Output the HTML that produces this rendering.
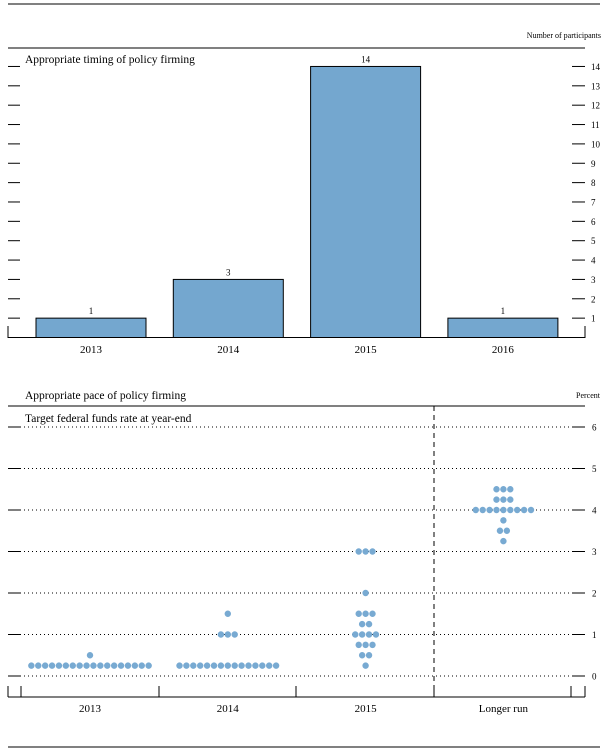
<!DOCTYPE html>
<html><head><meta charset="utf-8"><style>
body{margin:0;background:#fff;}
svg{display:block;font-family:"Liberation Serif",serif;}
</style></head><body>
<svg id="c" width="608" height="750" xmlns="http://www.w3.org/2000/svg">
<line x1="8" y1="4" x2="600" y2="4" stroke="#000" stroke-width="1"/>
<text x="601" y="38" font-size="8" text-anchor="end">Number of participants</text>
<line x1="8" y1="48" x2="585" y2="48" stroke="#000"/>
<text x="25" y="63" font-size="11.5">Appropriate timing of policy firming</text>
<text x="25" y="399" font-size="11.5">Appropriate pace of policy firming</text>
<text x="600" y="398" font-size="8" text-anchor="end">Percent</text>
<line x1="8" y1="406" x2="585" y2="406" stroke="#000"/>
<text x="25" y="422" font-size="11.5">Target federal funds rate at year-end</text>
<line x1="8" y1="747" x2="600" y2="747" stroke="#000"/>
<g id="g1"></g><g id="g2"></g>
</svg>
<script>
const barCats = ["2013","2014","2015","2016"];
const barVals = [1,3,14,1];
const barTicks = [1,2,3,4,5,6,7,8,9,10,11,12,13,14];
const dotCats = ["2013","2014","2015","Longer run"];
const dotRates = [
  [0.25,0.5],
  [0.25,1,1.5],
  [0.25,0.5,0.75,1,1.25,1.5,2,3],
  [3.25,3.5,3.75,4,4.25,4.5]
];
const dotCounts = [
  [18,1],
  [15,3,1],
  [1,2,3,4,2,3,1,3],
  [1,2,1,9,3,3]
];
const rateTicks = [0,1,2,3,4,5,6];

const NS="http://www.w3.org/2000/svg";
function mk(parent,tag,attrs){const e=document.createElementNS(NS,tag);for(const k in attrs)e.setAttribute(k,attrs[k]);parent.appendChild(e);return e;}
const g1=document.getElementById('g1'), g2=document.getElementById('g2');

// chart 1
const y1=v=>337.5-v*19.36;
const bx=i=>36+i*137.3;
const bw=110;
barTicks.forEach(t=>{
  let l=mk(g1,'line',{x1:8,x2:20,y1:y1(t),y2:y1(t),stroke:'#000'});
  
  
  let r=mk(g1,'line',{x1:572,x2:585,y1:y1(t),y2:y1(t),stroke:'#000'});
  
  
  let tx=mk(g1,'text',{x:591,y:y1(t)+3.5,'font-size':9});
  tx.textContent=t;
  
  
});
let bl=mk(g1,'path',{d:'M8,326V337.5H585V326',fill:'none',stroke:'#000'});


barVals.forEach((v,i)=>{
  let r=mk(g1,'rect',{x:bx(i),y:y1(v),width:bw,height:337.5-y1(v),fill:'#74a7cf',stroke:'#000','stroke-width':1});
  
  
  let t=mk(g1,'text',{x:bx(i)+bw/2,y:y1(v)-4,'font-size':9,'text-anchor':'middle'});
  t.textContent=v;
  
  
  let c=mk(g1,'text',{x:bx(i)+bw/2,y:353,'font-size':11,'text-anchor':'middle'});
  c.textContent=barCats[i];
  
  
});

// chart 2
const y2=v=>676-v*41.5;
const cx=i=>90+i*137.8;
rateTicks.forEach(t=>{
  let d=mk(g2,'line',{x1:8,x2:585,y1:y2(t),y2:y2(t),stroke:'#000','stroke-dasharray':'1 3'});
  
  
  let l=mk(g2,'line',{x1:8,x2:20,y1:y2(t),y2:y2(t),stroke:'#000'});
  
  
  let r=mk(g2,'line',{x1:572,x2:585,y1:y2(t),y2:y2(t),stroke:'#000'});
  
  
  let tx=mk(g2,'text',{x:592,y:y2(t)+3.5,'font-size':9});
  tx.textContent=t;
  
  
});
let dl=mk(g2,'line',{x1:434,x2:434,y1:406,y2:697,stroke:'#000','stroke-dasharray':'5 4'});


let ax=mk(g2,'line',{x1:8,x2:585,y1:697,y2:697,stroke:'#000'});


[8,21,159,296,434,571,585].forEach(x=>{
  let t=mk(g2,'line',{x1:x,x2:x,y1:686,y2:697,stroke:'#000'});
  
  
});
dotCats.forEach((c,i)=>{
  let t=mk(g2,'text',{x:cx(i),y:712,'font-size':11,'text-anchor':'middle'});
  t.textContent=c;
  
  
  dotRates[i].forEach((r,j)=>{
    const n=dotCounts[i][j];
    for(let k=0;k<n;k++){
      let d=mk(g2,'circle',{cx:cx(i)+(k-(n-1)/2)*6.9,cy:y2(r),r:3.2,fill:'#78aad2'});
      
      
    }
  });
});
</script>
</body></html>
